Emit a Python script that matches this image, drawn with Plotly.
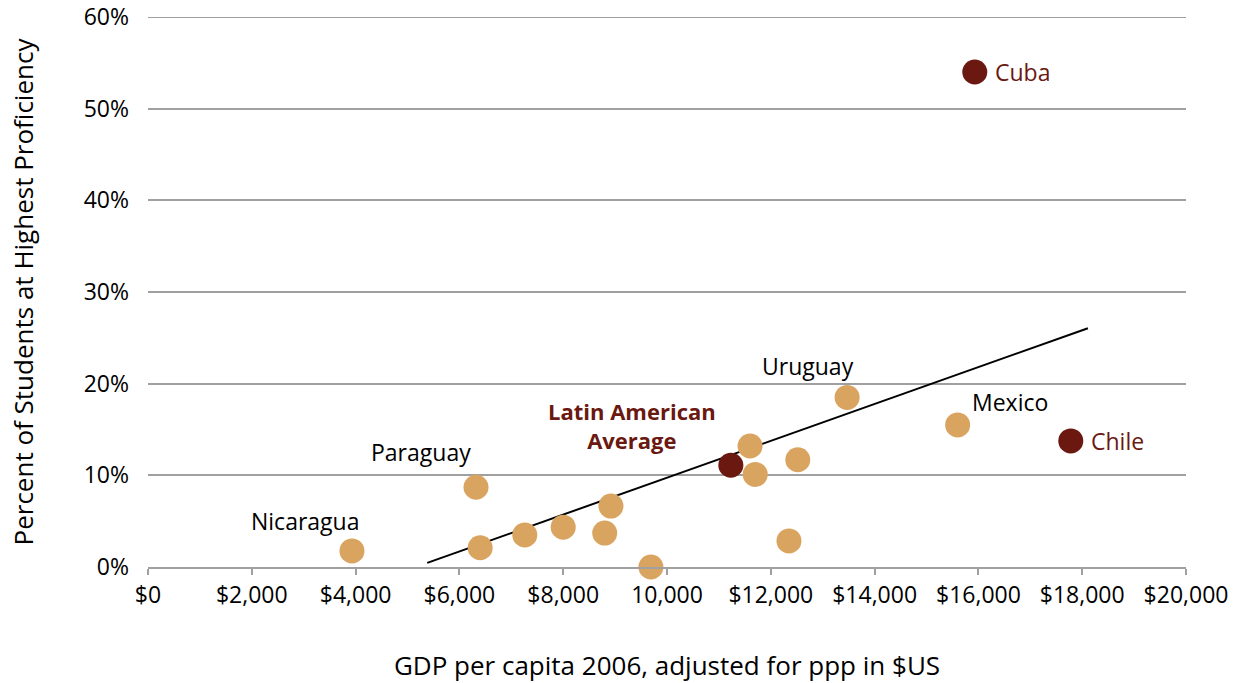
import plotly.graph_objects as go

# Data: GDP per capita (US$ ppp) and percent at highest proficiency
gdp_other = [6400, 7260, 8000, 8800, 8920, 9690, 11600, 11700, 12520, 12350]
pct_other = [2.1, 3.5, 4.35, 3.7, 6.65, 0.0, 13.2, 10.1, 11.7, 2.85]

named_countries = ["Nicaragua", "Paraguay", "Uruguay", "Mexico"]
named_gdp = [3930, 6320, 13470, 15600]
named_pct = [1.75, 8.7, 18.5, 15.5]

dark_names = ["Latin American Average", "Chile", "Cuba"]
dark_gdp = [11230, 17780, 15930]
dark_pct = [11.1, 13.75, 54.0]

trend_x = [5380, 18110]
trend_y = [0.45, 26.05]

x_tickvals = [0, 2000, 4000, 6000, 8000, 10000, 12000, 14000, 16000, 18000, 20000]
x_ticktext = ["$0", "$2,000", "$4,000", "$6,000", "$8,000", "10,000", "$12,000",
              "$14,000", "$16,000", "$18,000", "$20,000"]
y_tickvals = [0, 10, 20, 30, 40, 50, 60]
y_ticktext = ["0%", "10%", "20%", "30%", "40%", "50%", "60%"]

TAN = "#D9A460"
DARK = "#6A1810"
FONT = "Open Sans"
GRID = "#A0A0A0"

fig = go.Figure()
fig.add_trace(go.Scatter(x=trend_x, y=trend_y, mode="lines",
                         line=dict(color="black", width=2), hoverinfo="skip"))
fig.add_trace(go.Scatter(x=gdp_other + named_gdp, y=pct_other + named_pct, mode="markers",
                         marker=dict(color=TAN, size=25, line=dict(width=0)), cliponaxis=False))
fig.add_trace(go.Scatter(x=dark_gdp, y=dark_pct, mode="markers",
                         marker=dict(color=DARK, size=25, line=dict(width=0)), cliponaxis=False))

# Labels
ann = [
    dict(x=3030, y=5.0, text="Nicaragua", color="black", xanchor="center"),
    dict(x=5260, y=12.5, text="Paraguay", color="black", xanchor="center"),
    dict(x=12720, y=21.9, text="Uruguay", color="black", xanchor="center"),
    dict(x=16600, y=18.0, text="Mexico", color="black", xanchor="center"),
    dict(x=9330, y=15.4, text="<b>Latin American<br>Average</b>", color=DARK, xanchor="center"),
    dict(x=18130, y=13.75, text="Chile", color=DARK, xanchor="left"),
    dict(x=16280, y=54.0, text="Cuba", color=DARK, xanchor="left"),
]
for a in ann:
    fig.add_annotation(x=a["x"], y=a["y"], text=a["text"], showarrow=False,
                       xanchor=a["xanchor"], yanchor="middle",
                       font=dict(family=FONT, size=22 if "<b>" in a["text"] else 23, color=a["color"]))

# top gridline at 60% (plotly omits gridline at the range edge)
fig.add_hline(y=60, line=dict(color=GRID, width=2))

fig.update_layout(
    width=1236, height=683,
    margin=dict(l=148, r=50, t=17, b=116),
    paper_bgcolor="white", plot_bgcolor="white",
    showlegend=False,
    font=dict(family=FONT, size=23, color="black"),
    xaxis=dict(range=[0, 20000], tickvals=x_tickvals, ticktext=x_ticktext, automargin=False,
               showgrid=False, zeroline=False, showline=True, linecolor=GRID, linewidth=2,
               ticks="outside", ticklen=6, tickcolor=GRID, tickwidth=2,
               ticklabeloverflow="allow",
               tickfont=dict(family=FONT, size=23, color="black"),
               title=dict(text="GDP per capita 2006, adjusted for ppp in $US",
                          font=dict(family=FONT, size=26, color="black"), standoff=48)),
    yaxis=dict(range=[0, 60], tickvals=y_tickvals, ticktext=y_ticktext, automargin=False,
               showgrid=True, gridcolor=GRID, gridwidth=2, zeroline=False, showline=False,
               ticks="", ticklabelstandoff=18, ticklabeloverflow="allow",
               tickfont=dict(family=FONT, size=23, color="black"),
               title=dict(text="Percent of Students at Highest Proficiency",
                          font=dict(family=FONT, size=26, color="black"), standoff=42)),
)

fig.write_html("out.html", config={"displayModeBar": False},
               post_script="document.body.style.margin='0';")
